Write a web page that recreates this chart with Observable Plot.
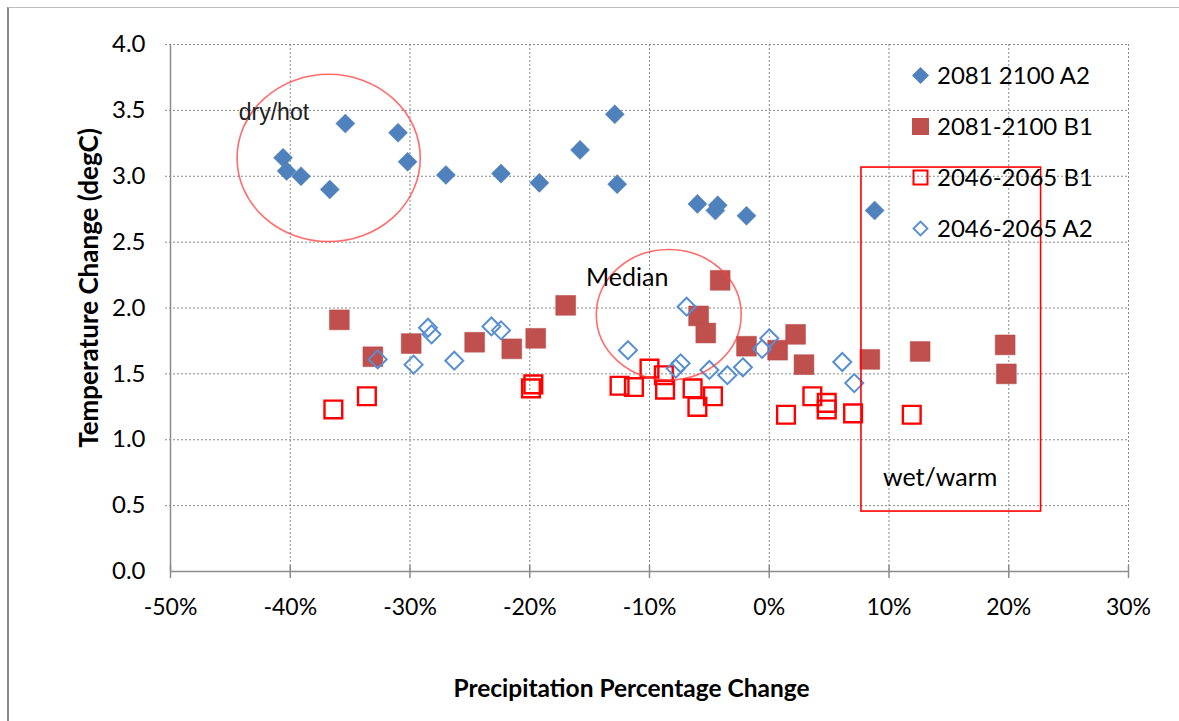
<!DOCTYPE html>
<html>
<head>
<meta charset="utf-8">
<script src="https://cdn.jsdelivr.net/npm/d3@7"></script>
<script src="https://cdn.jsdelivr.net/npm/@observablehq/plot@0.6"></script>
<style>
  html, body { margin: 0; padding: 0; background: #fff; }
  #wrap { position: relative; width: 1179px; height: 721px; overflow: hidden; font-family: Lato, "Open Sans", sans-serif; }
  #frame { position: absolute; left: 7px; top: 7px; width: 1200px; height: 800px; border-left: 2px solid #8a8a8a; border-top: 1px solid #bdbdbd; }
  #chart { position: absolute; left: 0; top: 0; }
  .leg { position: absolute; font-size: 24px; line-height: 24px; color: #000; white-space: nowrap; }
  .leg svg { position: absolute; left: -25px; top: 0; }
  #ytitle { position: absolute; left: 88px; top: 288px; transform: translate(-50%, -50%) rotate(-90deg); font-weight: bold; font-size: 26px; white-space: nowrap; color: #000; }
</style>
</head>
<body>
<div id="wrap">
  <div id="frame"></div>
  <div id="chart"></div>
  <div id="legend"></div>
  <div id="ytitle"></div>
</div>
<script>
// ---- data ----
const seriesNames = ["2081 2100 A2", "2081-2100 B1", "2046-2065 B1", "2046-2065 A2"];

const a2_2081_x = [-40.6, -40.3, -39.1, -36.7, -35.4, -31.0, -30.2, -27.0, -22.4, -19.2, -15.8, -12.9, -12.7, -6.0, -4.5, -4.3, -1.9, 8.8];
const a2_2081_y = [3.14, 3.04, 3.00, 2.90, 3.40, 3.33, 3.11, 3.01, 3.02, 2.95, 3.20, 3.47, 2.94, 2.79, 2.74, 2.78, 2.70, 2.74];

const b1_2081_x = [-35.9, -33.1, -29.9, -24.6, -21.5, -19.5, -17.0, -5.9, -5.3, -4.1, -1.9, 0.7, 2.2, 2.9, 8.4, 12.6, 19.7, 19.8];
const b1_2081_y = [1.91, 1.63, 1.73, 1.74, 1.69, 1.77, 2.02, 1.94, 1.81, 2.21, 1.71, 1.68, 1.80, 1.57, 1.61, 1.67, 1.72, 1.50];

const b1_2046_x = [-36.4, -33.6, -19.7, -19.9, -12.5, -11.3, -10.0, -8.8, -8.7, -6.4, -6.0, -4.7, 1.4, 3.6, 4.8, 4.8, 7.0, 11.9];
const b1_2046_y = [1.23, 1.33, 1.42, 1.39, 1.41, 1.40, 1.54, 1.49, 1.38, 1.39, 1.25, 1.33, 1.19, 1.33, 1.28, 1.23, 1.20, 1.19];

const a2_2046_x = [-32.7, -29.7, -28.5, -28.2, -26.3, -23.2, -22.4, -11.8, -6.9, -7.8, -7.4, -5.0, -3.5, -2.2, -0.6, 0.0, 6.1, 7.1];
const a2_2046_y = [1.61, 1.57, 1.85, 1.80, 1.60, 1.86, 1.83, 1.68, 2.01, 1.54, 1.58, 1.53, 1.49, 1.55, 1.69, 1.77, 1.59, 1.43];

const xTicks = [-50, -40, -30, -20, -10, 0, 10, 20, 30];
const yTicks = [0, 0.5, 1, 1.5, 2, 2.5, 3, 3.5, 4];

// annotation shapes, as data extents
const ellipseNames = ["dry/hot", "Median"];
const ellipseX1 = [-44.4, -14.4];
const ellipseX2 = [-29.1, -2.3];
const ellipseY1 = [2.50, 1.45];
const ellipseY2 = [3.77, 2.44];

const boxX1 = [7.7];
const boxX2 = [22.7];
const boxY1 = [0.455];
const boxY2 = [3.066];

const noteText = ["dry/hot", "Median", "wet/warm"];
const noteX = [-44.3, -15.3, 9.5];
const noteY = [3.48, 2.23, 0.71];

const xLabel = "Precipitation Percentage Change";
const yLabel = "Temperature Change (degC)";

// ---- build tables ----
const zip = (xs, ys) => xs.map((x, i) => ({x, y: ys[i]}));
const sA2_81 = zip(a2_2081_x, a2_2081_y);
const sB1_81 = zip(b1_2081_x, b1_2081_y);
const sB1_46 = zip(b1_2046_x, b1_2046_y);
const sA2_46 = zip(a2_2046_x, a2_2046_y);
const ellipses = ellipseNames.map((n, i) => ({n, x1: ellipseX1[i], x2: ellipseX2[i], y1: ellipseY1[i], y2: ellipseY2[i]}));
const boxes = boxX1.map((x1, i) => ({x1, x2: boxX2[i], y1: boxY1[i], y2: boxY2[i]}));
const notes = noteText.map((t, i) => ({t, x: noteX[i], y: noteY[i]}));

const gridColor = "#888";
const axisColor = "#8c8c8c";

function ellipseMark(index, scales, values, dimensions, context) {
  const sx = typeof scales.x === "function" ? scales.x : scales.scales.x.apply;
  const sy = typeof scales.y === "function" ? scales.y : scales.scales.y.apply;
  const g = d3.create("svg:g");
  for (const e of ellipses) {
    const xa = sx(e.x1), xb = sx(e.x2), ya = sy(e.y1), yb = sy(e.y2);
    g.append("ellipse")
      .attr("cx", (xa + xb) / 2).attr("cy", (ya + yb) / 2)
      .attr("rx", Math.abs(xb - xa) / 2).attr("ry", Math.abs(yb - ya) / 2)
      .attr("fill", "none").attr("stroke", "#ff3b3b").attr("stroke-opacity", 0.75).attr("stroke-width", 1.6);
  }
  return g.node();
}

const chart = Plot.plot({
  width: 1179,
  height: 721,
  marginLeft: 170,
  marginRight: 51,
  marginTop: 44,
  marginBottom: 150,
  style: {fontFamily: "Lato, 'Open Sans', sans-serif", fontSize: "23px", color: "#000", background: "transparent", overflow: "visible"},
  x: {domain: [-50, 30], ticks: xTicks, tickFormat: d => d + "%", tickSize: 0, tickPadding: 27, label: null},
  y: {domain: [0, 4], ticks: yTicks, tickFormat: d => d.toFixed(1), tickSize: 0, tickPadding: 25, label: null},
  marks: [
    // dotted gridlines
    Plot.ruleY(yTicks.filter(d => d > 0), {stroke: gridColor, strokeDasharray: "2,2", strokeWidth: 1, insetLeft: -5}),
    Plot.ruleX(xTicks.filter(d => d > -50), {stroke: gridColor, strokeDasharray: "2,2", strokeWidth: 1}),
    // axis lines and cross ticks
    Plot.ruleX(xTicks, {stroke: axisColor, strokeWidth: 1.5, insetTop: 521, insetBottom: -7}),
    Plot.ruleX([-50], {stroke: axisColor, strokeWidth: 1.5}),
    Plot.ruleY([0], {stroke: axisColor, strokeWidth: 1.5}),
    // series
    Plot.dot(sA2_81, {x: "x", y: "y", symbol: "diamond2", r: 8.6, fill: "#4f81bd", stroke: "#4f81bd", strokeWidth: 0.5}),
    Plot.dot(sB1_81, {x: "x", y: "y", symbol: "square", r: 11.2, fill: "#c0504d", stroke: "#b64a47", strokeWidth: 0.5}),
    Plot.dot(sB1_46, {x: "x", y: "y", symbol: "square", r: 10, fill: "none", stroke: "#ff0000", strokeWidth: 2.4}),
    Plot.dot(sA2_46, {x: "x", y: "y", symbol: "diamond2", r: 8.1, fill: "none", stroke: "#558ed5", strokeWidth: 2}),
    // annotations
    ellipseMark,
    Plot.rect(boxes, {x1: "x1", x2: "x2", y1: "y1", y2: "y2", fill: "none", stroke: "#ff0000", strokeWidth: 1.6}),
    Plot.text(notes.slice(0, 1), {x: "x", y: "y", text: "t", textAnchor: "start", fontSize: 23, fill: "#222", fontFamily: "'Liberation Sans', sans-serif"}),
    Plot.text(notes.slice(1), {x: "x", y: "y", text: "t", textAnchor: "start", fontSize: 25, fill: "#000"}),
    // x axis title
    Plot.text([xLabel], {frameAnchor: "bottom", dy: 125, dx: -18, text: d => d, fontWeight: "bold", fontSize: 24.5})
  ]
});
document.getElementById("chart").appendChild(chart);
d3.select(chart).selectAll('[aria-label="y-axis tick label"] text, [aria-label="y-axis"] text').style("font-size", "24px");
document.getElementById("ytitle").textContent = yLabel;

// ---- legend (HTML overlay) ----
const legendColors = [
  {name: seriesNames[0], svg: '<path d="M8.5,0 L17,8.5 L8.5,17 L0,8.5 Z" fill="#4f81bd"/>'},
  {name: seriesNames[1], svg: '<rect x="0" y="0" width="17" height="17" fill="#c0504d"/>'},
  {name: seriesNames[2], svg: '<rect x="1.5" y="1.5" width="14" height="14" fill="none" stroke="#ff0000" stroke-width="2"/>'},
  {name: seriesNames[3], svg: '<path d="M8.5,1.5 L15.5,8.5 L8.5,15.5 L1.5,8.5 Z" fill="none" stroke="#558ed5" stroke-width="1.8"/>'}
];
const legend = document.getElementById("legend");
legendColors.forEach((d, i) => {
  const el = document.createElement("div");
  el.className = "leg";
  el.style.left = "937px";
  el.style.top = (63 + i * 51) + "px";
  el.innerHTML = '<svg width="17" height="17" style="top:4px">' + d.svg + '</svg>' + d.name;
  legend.appendChild(el);
});
</script>
</body>
</html>
